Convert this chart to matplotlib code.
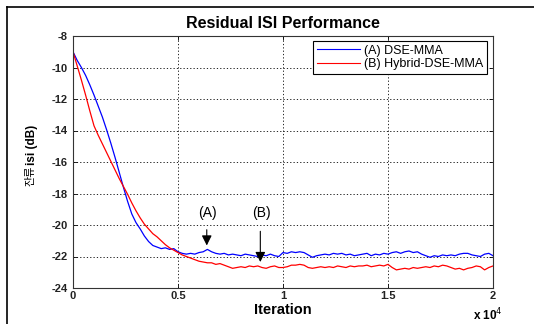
import matplotlib
matplotlib.use("Agg")
import matplotlib.pyplot as plt
import numpy as np
from matplotlib.lines import Line2D

# ---- data ----
iterations = np.arange(0, 20001, 200)

dse_mma = [
    -9.00, -9.55, -10.0, -10.5, -11.1, -11.75, -12.45, -13.15, -13.95, -14.8,
    -15.7, -16.65, -17.6, -18.5, -19.3, -19.85, -20.25, -20.7, -21.05, -21.3,
    -21.4, -21.5, -21.45, -21.55, -21.5, -21.7, -21.8, -21.85, -21.8, -21.85,
    -21.75, -21.7, -21.55, -21.7, -21.8, -21.85, -21.8, -21.9, -21.85, -21.9,
    -21.95, -21.85, -21.9, -21.95, -22.0, -21.9, -21.95, -21.85, -21.95, -22.0,
    -21.75, -21.8, -21.7, -21.75, -21.7, -21.75, -21.9, -22.05, -21.95, -21.9,
    -21.85, -21.9, -21.8, -21.85, -21.8, -21.9, -21.85, -21.95, -21.9, -21.85,
    -21.8, -21.95, -21.85, -21.9, -21.8, -21.85, -21.75, -21.7, -21.8, -21.7,
    -21.65, -21.75, -21.7, -21.85, -21.95, -22.05, -21.95, -22.0, -21.9, -21.95,
    -21.9, -21.95, -21.85, -21.8, -21.8, -21.9, -21.95, -22.0, -21.85, -21.8,
    -21.95,
]

hybrid_dse_mma = [
    -9.0, -9.9, -10.8, -11.75, -12.75, -13.7, -14.3, -14.85, -15.4, -15.95,
    -16.5, -17.05, -17.55, -18.05, -18.6, -19.1, -19.55, -19.95, -20.25, -20.55,
    -20.75, -21.0, -21.25, -21.45, -21.6, -21.75, -21.9, -22.0, -22.1, -22.2,
    -22.3, -22.35, -22.4, -22.4, -22.5, -22.45, -22.55, -22.65, -22.75, -22.7,
    -22.65, -22.7, -22.6, -22.65, -22.6, -22.7, -22.75, -22.65, -22.6, -22.7,
    -22.7, -22.65, -22.55, -22.55, -22.5, -22.55, -22.7, -22.75, -22.7, -22.65,
    -22.7, -22.65, -22.7, -22.6, -22.65, -22.7, -22.6, -22.65, -22.6, -22.6,
    -22.55, -22.65, -22.6, -22.55, -22.6, -22.5, -22.7, -22.85, -22.8, -22.75,
    -22.8, -22.7, -22.75, -22.7, -22.65, -22.7, -22.6, -22.65, -22.55, -22.6,
    -22.7, -22.8, -22.75, -22.85, -22.75, -22.7, -22.6, -22.65, -22.85, -22.7,
    -22.6,
]

series_labels = ["(A) DSE-MMA", "(B) Hybrid-DSE-MMA"]
x_ticks = [0, 5000, 10000, 15000, 20000]
x_tick_labels = ["0", "0.5", "1", "1.5", "2"]
y_ticks = [-8, -10, -12, -14, -16, -18, -20, -22, -24]

# annotations: (label, text x, text y, arrow start y, arrow end y)
ann_A = ("(A)", 6400, -19.7, -20.3, -21.3)
ann_B = ("(B)", 8950, -19.7, -20.4, -22.35)

plt.rcParams['font.family'] = ['Liberation Sans', 'Noto Sans CJK KR', 'DejaVu Sans']

fig = plt.figure(figsize=(5.34, 3.24), dpi=100)
ax = fig.add_axes([73/534, 1-288/324, 420/534, 252/324])

ax.plot(iterations, dse_mma, color='#0000ff', lw=0.9, label=series_labels[0])
ax.plot(iterations, hybrid_dse_mma, color='#ff0000', lw=0.9, label=series_labels[1])

ax.set_xlim(0, 20000)
ax.set_ylim(-24, -8)
ax.set_xticks(x_ticks)
ax.set_xticklabels(x_tick_labels)
ax.set_yticks(y_ticks)
ax.set_yticklabels([str(v) for v in y_ticks])
for lab in ax.get_xticklabels() + ax.get_yticklabels():
    lab.set_fontsize(8)
    lab.set_fontweight('bold')
    lab.set_color('#222222')
ax.tick_params(direction='in', length=3, width=0.6, top=True, right=True, pad=4)
ax.tick_params(axis='x', pad=2.5)
ax.grid(True, color='black', linestyle=(0, (1.5, 2.5)), linewidth=0.6)
for s in ax.spines.values():
    s.set_color('#333333')
    s.set_linewidth(0.8)

for lab, tx, ty, y0, y1 in (ann_A, ann_B):
    ax.text(tx, ty, lab, ha='center', va='bottom', fontsize=10, color='black')
    ax.annotate('', xy=(tx - 30, y1), xytext=(tx - 30, y0),
                arrowprops=dict(arrowstyle='-|>,head_length=0.6,head_width=0.3',
                                color='black', lw=0.8, shrinkA=0, shrinkB=0))

leg = ax.legend(loc='upper right', bbox_to_anchor=((487-73)/420, (288-41)/252),
                borderaxespad=0, fontsize=9, handlelength=3.4, handletextpad=0.35,
                fancybox=False, framealpha=1, edgecolor='black',
                borderpad=0.3, labelspacing=0.1)
leg.get_frame().set_linewidth(0.8)
for ln in leg.get_lines():
    ln.set_linewidth(0.8)

fig.text(283/534, 1-23/324, "Residual ISI Performance", ha='center', va='center',
         fontsize=11.5, fontweight='bold')
fig.text(283/534, 1-310.5/324, "Iteration", ha='center', va='center',
         fontsize=10.5, fontweight='bold')
fig.text(503/534, 1-320/324, r"x 10$^{4}$", ha='right', va='baseline',
         fontsize=8.5, fontweight='bold')
# y label: Korean part (normal) + "isi (dB)" (bold)
fig.text(31/534, 1-165/324, "잔류", ha='center', va='top', rotation=90,
         fontsize=8, family=['Noto Sans CJK KR', 'DejaVu Sans'])
fig.text(32/534, 1-165/324, "isi (dB)", ha='center', va='bottom', rotation=90,
         fontsize=8.5, fontweight='bold')

# frame lines (left and top) of the screenshot
fig.add_artist(Line2D([7/534, 7/534], [0, 1-7/324], transform=fig.transFigure,
                      color='black', lw=1.2))
fig.add_artist(Line2D([7/534, 1], [1-7/324, 1-7/324], transform=fig.transFigure,
                      color='black', lw=1.2))

fig.savefig("out.png", dpi=100)
